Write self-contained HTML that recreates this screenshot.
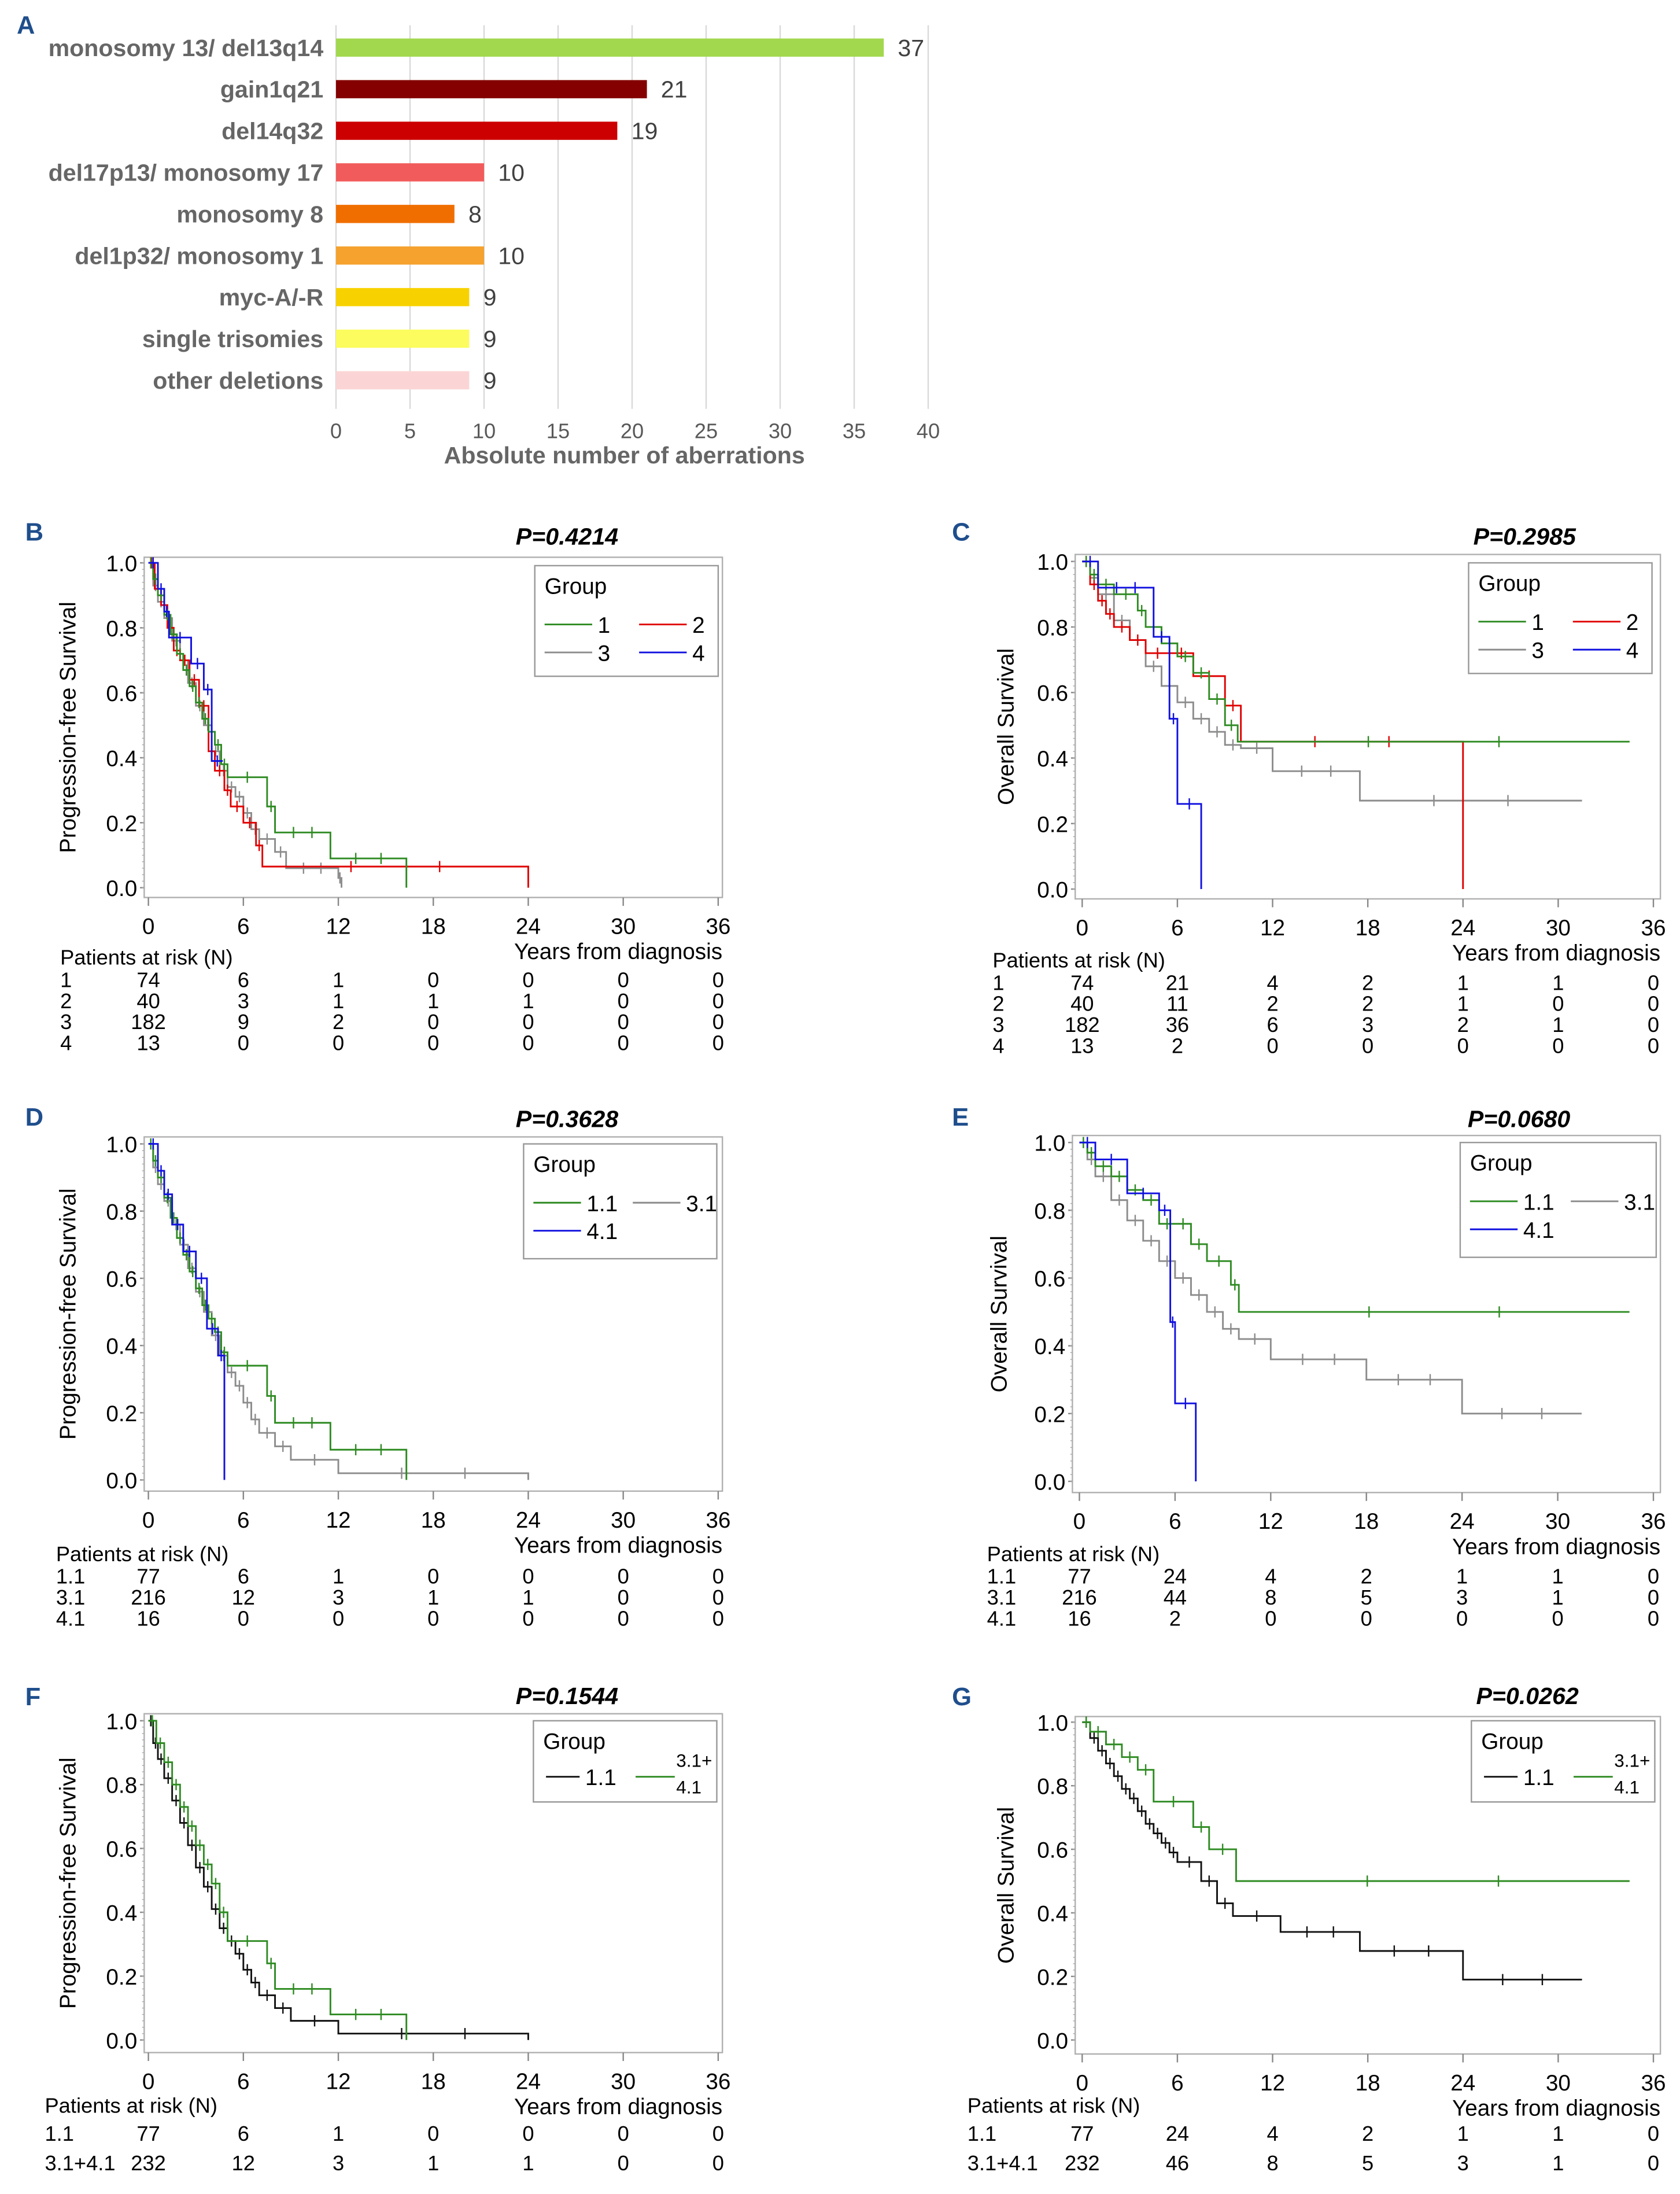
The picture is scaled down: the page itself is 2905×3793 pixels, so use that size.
<!DOCTYPE html>
<html><head><meta charset="utf-8">
<style>
html,body{margin:0;padding:0;background:#fff;}
svg{display:block;}
text{font-family:"Liberation Sans",sans-serif;}
</style></head>
<body>
<svg id="fig" width="2905" height="3793" viewBox="0 0 1200 1567" preserveAspectRatio="none" xmlns="http://www.w3.org/2000/svg">
<rect width="1200" height="1567" fill="#fff"/>
<g id="panelA"></g>
<g id="kms"></g>
</svg>
<script>
const NS="http://www.w3.org/2000/svg";
function mk(parent,tag,attrs,txt){const e=document.createElementNS(NS,tag);for(const k in attrs)e.setAttribute(k,attrs[k]);if(txt!==undefined)e.textContent=txt;parent.appendChild(e);return e;}

// ---------- Panel A data ----------
const aCategories=["monosomy 13/ del13q14","gain1q21","del14q32","del17p13/ monosomy 17","monosomy 8","del1p32/ monosomy 1","myc-A/-R","single trisomies","other deletions"];
const aValues=[37,21,19,10,8,10,9,9,9];
const aColors=["#a2d84e","#850000","#cc0000","#f25b5b","#f06e00","#f5a22e","#f8d200","#fcfc5e","#fbd5d5"];
const aTicks=[0,5,10,15,20,25,30,35,40];

(function(){
  const g=document.getElementById('panelA');
  const x=v=>240+v*(663-240)/40;
  const y=i=>34+i*29.7;
  let t=mk(g,'text',{x:12,y:24,'font-size':18,'font-weight':'bold',fill:'#1f4e8c'},'A');
  
  aTicks.forEach(v=>{
    let l=mk(g,'line',{x1:x(v),x2:x(v),y1:18,y2:292,stroke:'#d9d9d9','stroke-width':1});
    
    let tt=mk(g,'text',{x:x(v),y:313,'font-size':15,fill:'#595959','text-anchor':'middle'},String(v));
    
  });
  aCategories.forEach((c,i)=>{
    let r=mk(g,'rect',{x:x(0),y:y(i)-6.5,width:x(aValues[i])-x(0),height:13,fill:aColors[i]});
    
    let lb=mk(g,'text',{x:231,y:y(i)+6,'font-size':17,'font-weight':'bold',fill:'#666','text-anchor':'end'},c);
    
    let vl=mk(g,'text',{x:x(aValues[i])+10,y:y(i)+6,'font-size':17,fill:'#404040'},String(aValues[i]));
    
  });
  let at=mk(g,'text',{x:446,y:331,'font-size':17,'font-weight':'bold',fill:'#666','text-anchor':'middle'},'Absolute number of aberrations');
  
})();

// ---------- KM data (times in years, survival) ----------
const bG1t=[0,0.3,0.6,1,1.4,1.8,2.2,2.6,3,3.4,3.8,4.2,4.6,5,7.5,8,11.5,16.3];
const bG1s=[1,0.95,0.9,0.84,0.78,0.72,0.67,0.62,0.57,0.52,0.48,0.44,0.38,0.34,0.25,0.17,0.09,0];
const bG2t=[0,0.4,0.8,1.2,1.6,2,2.6,3.2,3.8,4.2,4.8,5.2,6,6.8,7.2,24];
const bG2s=[1,0.92,0.87,0.8,0.73,0.7,0.64,0.56,0.42,0.36,0.3,0.25,0.2,0.13,0.065,0];
const bG3t=[0,0.3,0.6,1,1.5,2,2.5,3,3.5,4,4.5,5,5.5,6,6.5,7,8,8.7,12,12.2];
const bG3s=[1,0.93,0.88,0.83,0.76,0.7,0.63,0.56,0.5,0.42,0.36,0.31,0.28,0.23,0.18,0.15,0.11,0.06,0.03,0];
const bG4t=[0,0.6,1,1.3,2.7,3.5,4,4.7];
const bG4s=[1,0.92,0.85,0.77,0.69,0.61,0.39,0.39];

const cG1t=[0,0.5,1,2,3.5,4,5,6,7,8,9,9.8,34.5];
const cG1s=[1,0.96,0.93,0.9,0.85,0.8,0.75,0.71,0.66,0.58,0.5,0.45,0.45];
const cG2t=[0,0.5,1,1.5,2,3,4,5.5,7,9,10,24];
const cG2s=[1,0.93,0.88,0.84,0.8,0.76,0.72,0.72,0.65,0.56,0.45,0];
const cG3t=[0,0.5,1,2,3,4,5,6,7,8,9,10,12,17.5,31.5];
const cG3s=[1,0.95,0.9,0.82,0.76,0.68,0.62,0.57,0.52,0.48,0.44,0.43,0.36,0.27,0.27];
const cG4t=[0,1,4.5,5.5,6,7.5];
const cG4s=[1,0.92,0.77,0.52,0.26,0];

const dG1t=bG1t, dG1s=bG1s;
const dG3t=[0,0.3,0.6,1,1.5,2,2.5,3,3.5,4,4.5,5,5.5,6,6.5,7,8,9,12,24];
const dG3s=[1,0.93,0.88,0.83,0.76,0.7,0.63,0.56,0.5,0.43,0.37,0.32,0.28,0.23,0.18,0.14,0.1,0.06,0.02,0];
const dG4t=[0,0.6,1,1.5,2.2,3,3.7,4.4,4.8];
const dG4s=[1,0.92,0.85,0.76,0.68,0.6,0.45,0.37,0];

const eG1t=[0,0.5,1,2,3,4,5,6,7,8,9.5,10,34.5];
const eG1s=[1,0.97,0.93,0.9,0.86,0.83,0.76,0.76,0.7,0.65,0.58,0.5,0.5];
const eG3t=[0,0.5,1,2,3,4,5,6,7,8,9,10,12,18,24,31.5];
const eG3s=[1,0.95,0.9,0.83,0.77,0.71,0.65,0.6,0.55,0.5,0.45,0.42,0.36,0.3,0.2,0.2];
const eG4t=[0,1,3,5,5.7,6,7.3];
const eG4s=[1,0.95,0.85,0.8,0.47,0.23,0];

const fBt=[0,0.3,0.6,1,1.5,2,2.5,3,3.5,4,4.5,5,5.5,6,6.5,7,8,9,12,24];
const fBs=[1,0.93,0.88,0.82,0.75,0.68,0.61,0.54,0.48,0.41,0.35,0.31,0.27,0.22,0.18,0.14,0.1,0.06,0.02,0];
const fGt=[0,0.5,1,1.5,2,2.5,3,3.5,4,4.5,5,7.5,8,11.5,16.3];
const fGs=[1,0.93,0.87,0.8,0.73,0.67,0.61,0.55,0.49,0.4,0.31,0.24,0.16,0.08,0];

const gBt=[0,0.5,1,1.5,2,2.5,3,3.5,4,4.5,5,5.5,6,7.5,8.5,9.5,12.5,17.5,24,31.5];
const gBs=[1,0.95,0.91,0.87,0.83,0.79,0.76,0.72,0.68,0.65,0.62,0.59,0.56,0.5,0.43,0.39,0.34,0.28,0.19,0.19];
const gGt=[0,0.5,1.5,2.5,3.5,4.5,7,8,9.7,34.5];
const gGs=[1,0.97,0.93,0.89,0.85,0.75,0.67,0.6,0.5,0.5];

const riskTimes=[0,6,12,18,24,30,36];

const panels=[
 {id:'B',lx:18,ly:386,x0:106,x1:513,y1:402,y0:634,fr:[103,398,516,641],p:'P=0.4214',px:405,py:389,yt:'Progression-free Survival',ytx:54,
  series:[[bG3t,bG3s,'#8c8c8c'],[bG2t,bG2s,'#e00000'],[bG1t,bG1s,'#2e8b22'],[bG4t,bG4s,'#1010e0']],
  leg:{x:382,y:404,w:131,h:79,rows:[[['1','#2e8b22'],['2','#e00000']],[['3','#8c8c8c'],['4','#1010e0']]]},
  risk:{top:689,rows:[['1',[74,6,1,0,0,0,0]],['2',[40,3,1,1,1,0,0]],['3',[182,9,2,0,0,0,0]],['4',[13,0,0,0,0,0,0]]],lx:43}},
 {id:'C',lx:680,ly:386,x0:773,x1:1181,y1:401,y0:635,fr:[768,396,1186,642],p:'P=0.2985',px:1089,py:389,yt:'Overall Survival',ytx:724,
  series:[[cG3t,cG3s,'#8c8c8c'],[cG2t,cG2s,'#e00000'],[cG1t,cG1s,'#2e8b22'],[cG4t,cG4s,'#1010e0']],
  leg:{x:1049,y:402,w:131,h:79,rows:[[['1','#2e8b22'],['2','#e00000']],[['3','#8c8c8c'],['4','#1010e0']]]},
  risk:{top:691,rows:[['1',[74,21,4,2,1,1,0]],['2',[40,11,2,2,1,0,0]],['3',[182,36,6,3,2,1,0]],['4',[13,2,0,0,0,0,0]]],lx:709}},
 {id:'D',lx:18,ly:804,x0:106,x1:513,y1:817,y0:1057,fr:[103,812,516,1065],p:'P=0.3628',px:405,py:805,yt:'Progression-free Survival',ytx:54,
  series:[[dG3t,dG3s,'#8c8c8c'],[dG1t,dG1s,'#2e8b22'],[dG4t,dG4s,'#1010e0']],
  leg:{x:374,y:817,w:138,h:82,rows:[[['1.1','#2e8b22'],['3.1','#8c8c8c']],[['4.1','#1010e0']]]},
  risk:{top:1115,rows:[['1.1',[77,6,1,0,0,0,0]],['3.1',[216,12,3,1,1,0,0]],['4.1',[16,0,0,0,0,0,0]]],lx:40}},
 {id:'E',lx:680,ly:804,x0:771,x1:1181,y1:816,y0:1058,fr:[766,811,1186,1066],p:'P=0.0680',px:1085,py:805,yt:'Overall Survival',ytx:719,
  series:[[eG3t,eG3s,'#8c8c8c'],[eG1t,eG1s,'#2e8b22'],[eG4t,eG4s,'#1010e0']],
  leg:{x:1043,y:816,w:140,h:82,rows:[[['1.1','#2e8b22'],['3.1','#8c8c8c']],[['4.1','#1010e0']]]},
  risk:{top:1115,rows:[['1.1',[77,24,4,2,1,1,0]],['3.1',[216,44,8,5,3,1,0]],['4.1',[16,2,0,0,0,0,0]]],lx:705}},
 {id:'F',lx:18,ly:1218,x0:106,x1:513,y1:1229,y0:1457,fr:[103,1224,516,1466],p:'P=0.1544',px:405,py:1217,yt:'Progression-free Survival',ytx:54,
  series:[[fBt,fBs,'#111'],[fGt,fGs,'#2e8b22']],
  leg:{x:381,y:1229,w:131,h:58,two:true},
  risk:{top:1509,rows:[['1.1',[77,6,1,0,0,0,0]],['3.1+4.1',[232,12,3,1,1,0,0]]],lx:32,gap:21}},
 {id:'G',lx:680,ly:1218,x0:773,x1:1181,y1:1230,y0:1457,fr:[768,1226,1186,1467],p:'P=0.0262',px:1091,py:1217,yt:'Overall Survival',ytx:724,
  series:[[gBt,gBs,'#111'],[gGt,gGs,'#2e8b22']],
  leg:{x:1051,y:1229,w:131,h:58,two:true},
  risk:{top:1509,rows:[['1.1',[77,24,4,2,1,1,0]],['3.1+4.1',[232,46,8,5,3,1,0]]],lx:691,gap:21}}
];

const root=document.getElementById('kms');
panels.forEach(P=>{
  const g=mk(root,'g',{});
  
  
  const X=t=>P.x0+t*(P.x1-P.x0)/36;
  const Y=s=>P.y0-s*(P.y0-P.y1);
  let t=mk(g,'text',{x:P.lx,y:P.ly,'font-size':18,'font-weight':'bold',fill:'#1f4e8c'},P.id);
  
  let pv=mk(g,'text',{x:P.px,y:P.py,'font-size':17,'font-weight':'bold','font-style':'italic',fill:'#000','text-anchor':'middle'},P.p);
  
  const f=P.fr;
  let fr=mk(g,'rect',{x:f[0],y:f[1],width:f[2]-f[0],height:f[3]-f[1],fill:'none',stroke:'#b0b0b0','stroke-width':1});
  
  [0,0.2,0.4,0.6,0.8,1.0].forEach(v=>{
    let tl=mk(g,'text',{x:f[0]-5,y:Y(v)+6,'font-size':16,fill:'#000','text-anchor':'end'},v.toFixed(1));
    
    mk(g,'line',{x1:f[0]-3,x2:f[0],y1:Y(v),y2:Y(v),stroke:'#888','stroke-width':1});
  });
  for(let v=0;v<=1.0001;v+=0.02){mk(g,'line',{x1:f[0]-1.5,x2:f[0],y1:Y(v),y2:Y(v),stroke:'#aaa','stroke-width':0.6});}
  riskTimes.forEach(v=>{
    mk(g,'line',{x1:X(v),x2:X(v),y1:f[3],y2:f[3]+6,stroke:'#888','stroke-width':1});
    let tl=mk(g,'text',{x:X(v),y:f[3]+26,'font-size':16,fill:'#000','text-anchor':'middle'},String(v));
    
  });
  let xt=mk(g,'text',{x:f[2],y:f[3]+44,'font-size':16,fill:'#000','text-anchor':'end'},'Years from diagnosis');
  
  const cy=(f[1]+f[3])/2;
  let yt=mk(g,'text',{x:P.ytx,y:cy,'font-size':16,fill:'#000','text-anchor':'middle',transform:`rotate(-90 ${P.ytx} ${cy})`},P.yt);
  
  P.series.forEach(([ts,ss,col])=>{
    let d=`M${X(ts[0])},${Y(ss[0])}`;
    for(let i=1;i<ts.length;i++){d+=` H${X(ts[i])} V${Y(ss[i]!==undefined?ss[i]:ss[i-1])}`;}
    let p=mk(g,'path',{d:d,fill:'none',stroke:col,'stroke-width':1.2});
    
    for(let i=0;i<ts.length-1;i++){
      const a=ts[i],b=ts[i+1];const n=b-a>3?2:1;
      for(let k=1;k<=n;k++){const tm=a+(b-a)*k/(n+1);
        let c=mk(g,'line',{x1:X(tm),x2:X(tm),y1:Y(ss[i])-4,y2:Y(ss[i])+4,stroke:col,'stroke-width':1});
        }
    }
  });
  const L=P.leg;
  let lg=mk(g,'g',{});
  mk(lg,'rect',{x:L.x,y:L.y,width:L.w,height:L.h,fill:'#fff',stroke:'#999','stroke-width':1});
  mk(lg,'text',{x:L.x+7,y:L.y+20,'font-size':16,fill:'#000'},'Group');
  if(L.two){
    const ry=L.y+40;
    mk(lg,'line',{x1:L.x+9,x2:L.x+33,y1:ry,y2:ry,stroke:'#111','stroke-width':1.2});
    mk(lg,'text',{x:L.x+37,y:ry+6,'font-size':16,fill:'#000'},'1.1');
    mk(lg,'line',{x1:L.x+73,x2:L.x+101,y1:ry,y2:ry,stroke:'#2e8b22','stroke-width':1.2});
    mk(lg,'text',{x:L.x+102,y:ry-7,'font-size':13,fill:'#000'},'3.1+');
    mk(lg,'text',{x:L.x+102,y:ry+12,'font-size':13,fill:'#000'},'4.1');
  } else {
    L.rows.forEach((row,ri)=>{
      const ry=L.y+42+ri*20;
      row.forEach(([lab,col],ci)=>{
        const bx=L.x+7+ci*(L.w/2+2);
        let e=mk(lg,'line',{x1:bx,x2:bx+34,y1:ry,y2:ry,stroke:col,'stroke-width':1.2});
        
        mk(lg,'text',{x:bx+38,y:ry+6,'font-size':16,fill:'#000'},lab);
      });
    });
  }
  const R=P.risk;const gap=R.gap||15;
  let rt=mk(g,'text',{x:R.lx,y:R.top,'font-size':15,fill:'#000'},'Patients at risk (N)');
  
  R.rows.forEach(([lab,vals],ri)=>{
    const ry=R.top+(R.gap?20:16)+ri*gap;
    let rl=mk(g,'text',{x:R.lx,y:ry,'font-size':15,fill:'#000'},lab);
    
    vals.forEach((v,ci)=>{
      let rv=mk(g,'text',{x:X(riskTimes[ci]),y:ry,'font-size':15,fill:'#000','text-anchor':'middle'},String(v));
      
    });
  });
});
</script>
</body></html>
